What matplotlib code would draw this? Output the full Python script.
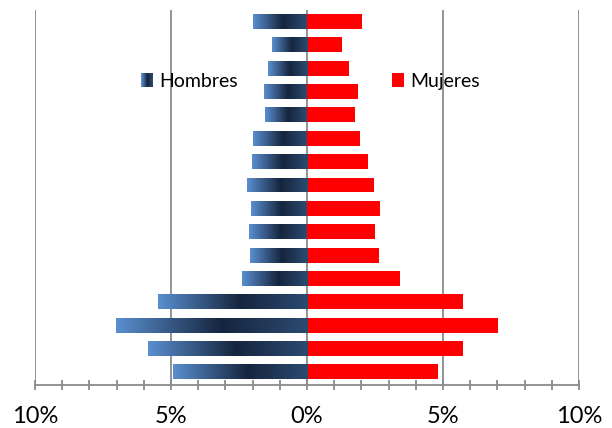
import numpy as np
import matplotlib
matplotlib.use("Agg")
import matplotlib.pyplot as plt
from matplotlib.colors import LinearSegmentedColormap
from matplotlib.patches import Rectangle, Patch
from matplotlib.legend_handler import HandlerBase
from matplotlib.ticker import FuncFormatter, MultipleLocator

plt.rcParams['font.family'] = ['Lato', 'DejaVu Sans']

# age groups, youngest at the bottom
grupos = ["0-4", "5-9", "10-14", "15-19", "20-24", "25-29", "30-34", "35-39",
          "40-44", "45-49", "50-54", "55-59", "60-64", "65-69", "70-74", "75+"]
hombres = [4.93, 5.85, 7.03, 5.49, 2.39, 2.10, 2.13, 2.05,
           2.21, 2.03, 1.98, 1.54, 1.58, 1.44, 1.29, 1.98]
mujeres = [4.83, 5.73, 7.01, 5.75, 3.41, 2.64, 2.50, 2.70,
           2.46, 2.23, 1.94, 1.75, 1.88, 1.55, 1.28, 2.03]
ticks_major = [-10, -5, 0, 5, 10]

azul = LinearSegmentedColormap.from_list(
    "hombres", [(0.0, "#5a8fd0"), (0.55, "#16253e"), (1.0, "#2c4b71")])
rojo = "#ff0000"
gris = "#8a8a8a"


class GradientHandler(HandlerBase):
    def __init__(self, cmap, n=12):
        super().__init__()
        self.cmap = cmap
        self.n = n

    def create_artists(self, legend, orig_handle, xdescent, ydescent,
                       width, height, fontsize, trans):
        w = width / self.n
        arts = []
        for i in range(self.n):
            arts.append(Rectangle((-xdescent + i * w, -ydescent), w * 1.05, height,
                                  facecolor=self.cmap(i / (self.n - 1)),
                                  edgecolor="none", transform=trans))
        return arts


fig = plt.figure(figsize=(6.12, 4.28), dpi=100)
ax = fig.add_axes([0.0572, 0.1016, 0.8889, 0.875])

y = np.arange(len(grupos))
h_bars = ax.barh(y, -np.array(hombres), height=0.64, color="none", zorder=3)
ax.barh(y, mujeres, height=0.64, color=rojo, zorder=3)

grad = np.linspace(0, 1, 256).reshape(1, -1)
for b in h_bars:
    x0, x1 = sorted([b.get_x(), b.get_x() + b.get_width()])
    y0, y1 = b.get_y(), b.get_y() + b.get_height()
    im = ax.imshow(grad, extent=[x0, x1, y0, y1], cmap=azul, aspect="auto",
                   origin="lower", zorder=3, interpolation="bilinear")
    im.set_clip_path(b)

ax.set_xlim(-10, 10)
ax.set_ylim(-0.54, 15.49)
ax.set_yticks([])
for s in ["left", "right", "top"]:
    ax.spines[s].set_visible(False)
ax.spines["bottom"].set_color(gris)
ax.spines["bottom"].set_linewidth(1.3)

ax.xaxis.set_major_locator(plt.FixedLocator(ticks_major))
ax.xaxis.set_minor_locator(MultipleLocator(1))
ax.xaxis.set_major_formatter(FuncFormatter(lambda v, p: f"{abs(v):.0f}%"))
ax.tick_params(axis="x", which="both", direction="inout", length=7.5,
               width=1.3, color=gris, labelsize=17, pad=12)
ax.grid(axis="x", which="major", color=gris, linewidth=1.3, zorder=0)
ax.set_axisbelow(True)

handles = [Patch(label="Hombres"), Patch(label="Mujeres", facecolor=rojo)]
leg = ax.legend(handles=handles, ncol=2, frameon=False, fontsize=14,
                handler_map={handles[0]: GradientHandler(azul)},
                handlelength=0.62, handleheight=0.72, handletextpad=0.35,
                columnspacing=7.9, loc="center",
                bbox_to_anchor=(0.5065, 0.81))

fig.savefig("out.png", dpi=100)
